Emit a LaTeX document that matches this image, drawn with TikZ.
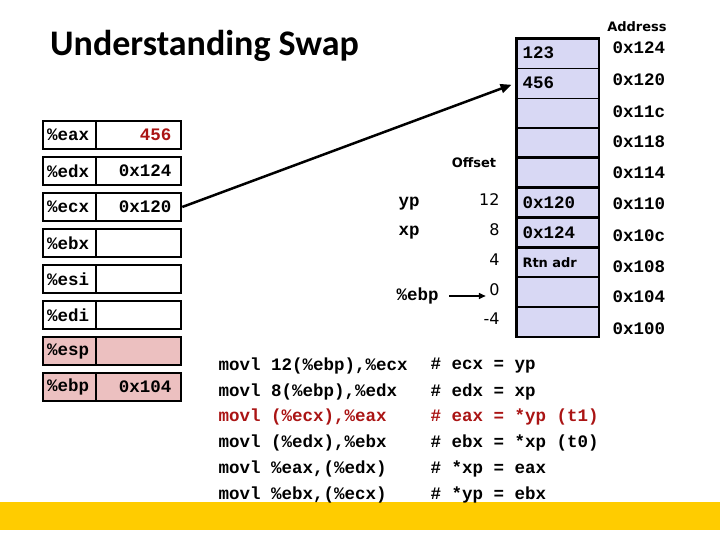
\documentclass[tikz,border=0pt]{standalone}
\usepackage{fontspec}
\setmonofont{Liberation Mono}
\newfontfamily\titlefont{Carlito}
\newfontfamily\labelfont{DejaVu Sans}
\usetikzlibrary{arrows.meta}
\definecolor{cellblue}{RGB}{216,216,244}
\definecolor{regpink}{RGB}{236,192,192}
\definecolor{codered}{RGB}{170,20,20}
\definecolor{baryellow}{RGB}{255,204,0}
\begin{document}
\begin{tikzpicture}[x=1pt,y=-1pt,
    mono/.style={font=\ttfamily\bfseries\fontsize{17.5}{20}\selectfont},
    lbl/.style={font=\labelfont\bfseries\fontsize{13}{15}\selectfont},
    off/.style={font=\labelfont\fontsize{16}{18}\selectfont,anchor=east},
    reg/.style={mono,draw,line width=2.5pt,minimum height=28pt},
    regname/.style={reg,minimum width=53pt,text width=45pt,align=left},
    regval/.style={reg,minimum width=85pt,text width=66pt,align=right},
    stacktop/.style={mono,draw,fill=cellblue,line width=0.8pt,outer sep=0pt,minimum width=82.5pt,minimum height=29.85pt,text width=70pt,align=left},
    stackcell/.style={stacktop,line width=2.5pt},
    >={Triangle[length=11pt,width=9pt]}]
    \useasboundingbox[fill=white] (0,0) rectangle (720,540);
    \fill [baryellow] (0,502) rectangle (720,530);
    \node [font=\titlefont\bfseries\fontsize{36}{40}\selectfont,anchor=base west,inner sep=0] (title) at (50,56) {Understanding Swap};
    % registers
    \node [regname] (eax) at (69.5,135) {\%eax};
    \node [regval,text=codered] (eaxv) at (138.5,135) {456};
    \node [regname] (edx) at (69.5,171) {\%edx};
    \node [regval] (edxv) at (138.5,171) {0x124};
    \node [regname] (ecx) at (69.5,207) {\%ecx};
    \node [regval] (ecxv) at (138.5,207) {0x120};
    \node [regname] (ebx) at (69.5,243) {\%ebx};
    \node [regval] (ebxv) at (138.5,243) {};
    \node [regname] (esi) at (69.5,279) {\%esi};
    \node [regval] (esiv) at (138.5,279) {};
    \node [regname] (edi) at (69.5,315) {\%edi};
    \node [regval] (ediv) at (138.5,315) {};
    \node [regname,fill=regpink] (esp) at (69.5,351) {\%esp};
    \node [regval,fill=regpink] (espv) at (138.5,351) {};
    \node [regname,fill=regpink] (ebp) at (69.5,387) {\%ebp};
    \node [regval,fill=regpink] (ebpv) at (138.5,387) {0x104};
    % stack
    \node [stacktop] (s1) at (557.5,53.2) {123};
    \node [stacktop] (s2) at (557.5,83.0) {456};
    \node [stacktop] (s3) at (557.5,112.9) {};
    \node [stackcell] (s4) at (557.5,142.7) {};
    \node [stackcell] (s5) at (557.5,172.6) {};
    \node [stackcell] (s6) at (557.5,202.5) {0x120};
    \node [stackcell] (s7) at (557.5,232.3) {0x124};
    \node [stackcell,font=\labelfont\bfseries\fontsize{13}{15}\selectfont] (s8) at (557.5,262.2) {Rtn adr};
    \node [stackcell] (s9) at (557.5,292.0) {};
    \node [stackcell] (s10) at (557.5,321.9) {};
    \draw [line width=2.5pt] (s1.north west) rectangle (s10.south east);
    \node [lbl] (addr) at (637,27) {Address};
    \node [mono,anchor=west] (a124) at (609,48) {0x124};
    \node [mono,anchor=west] (a120) at (609,80) {0x120};
    \node [mono,anchor=west] (a11c) at (609,112) {0x11c};
    \node [mono,anchor=west] (a118) at (609,142) {0x118};
    \node [mono,anchor=west] (a114) at (609,173) {0x114};
    \node [mono,anchor=west] (a110) at (609,204) {0x110};
    \node [mono,anchor=west] (a10c) at (609,236) {0x10c};
    \node [mono,anchor=west] (a108) at (609,267) {0x108};
    \node [mono,anchor=west] (a104) at (609,297) {0x104};
    \node [mono,anchor=west] (a100) at (609,329) {0x100};
    \node [lbl] (offset) at (474,163) {Offset};
    \node [off] (off12) at (503,200) {12};
    \node [off] (off8) at (503,230) {8};
    \node [off] (off4) at (503,260) {4};
    \node [off] (off0) at (503,290) {0};
    \node [off] (offm4) at (503,319) {-4};
    \node [mono,anchor=west] (yp) at (395,204) {yp};
    \node [mono,anchor=west] (xp) at (395,233) {xp};
    \node [mono,anchor=west] (ebpl) at (393,296) {\%ebp};
    % code
    \node [mono,anchor=west] (l1) at (215,366) {movl 12(\%ebp),\%ecx};
    \node [mono,anchor=west] (k1) at (427,366) {\# ecx = yp};
    \node [mono,anchor=west] (l2) at (215,392) {movl 8(\%ebp),\%edx};
    \node [mono,anchor=west] (k2) at (427,392) {\# edx = xp};
    \node [mono,anchor=west,text=codered] (l3) at (215,417) {movl (\%ecx),\%eax};
    \node [mono,anchor=west,text=codered] (k3) at (427,417) {\# eax = *yp (t1)};
    \node [mono,anchor=west] (l4) at (215,443) {movl (\%edx),\%ebx};
    \node [mono,anchor=west] (k4) at (427,443) {\# ebx = *xp (t0)};
    \node [mono,anchor=west] (l5) at (215,469) {movl \%eax,(\%edx)};
    \node [mono,anchor=west] (k5) at (427,469) {\# *xp = eax};
    \node [mono,anchor=west] (l6) at (215,495) {movl \%ebx,(\%ecx)};
    \node [mono,anchor=west] (k6) at (427,495) {\# *yp = ebx};
    \draw [->,line width=2.5pt,shorten >=5pt] (ecxv.east) -- (s2.west);
    \draw [->,line width=1.5pt,shorten <=7pt,>={Triangle[length=7pt,width=6pt]}] (ebpl.east) -- (ebpl.east -| off0.west);
\end{tikzpicture}
\end{document}
